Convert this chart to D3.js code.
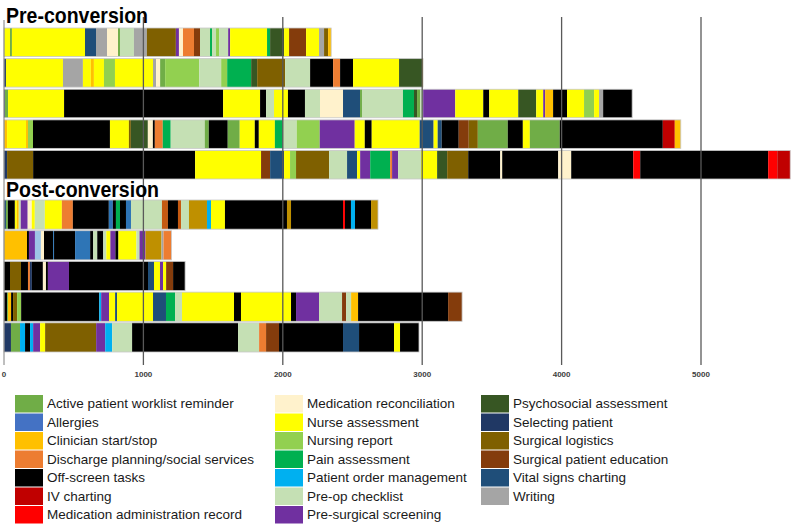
<!DOCTYPE html>
<html><head><meta charset="utf-8">
<script src="https://cdn.jsdelivr.net/npm/d3@7"></script>
<style>body{margin:0;background:#fff}svg{display:block}</style>
</head><body>
<script>
// ---- DATA ----
const categories = ["Active patient worklist reminder","Allergies","Clinician start/stop","Discharge planning/social services","Off-screen tasks","IV charting","Medication administration record","Medication reconciliation","Nurse assessment","Nursing report","Pain assessment","Patient order management","Pre-op checklist","Pre-surgical screening","Psychosocial assessment","Selecting patient","Surgical logistics","Surgical patient education","Vital signs charting","Writing"];
const categoryCodes = ["AP","AL","CS","DP","OS","IV","MA","MR","NA","NR","PA","PO","PC","PS","PY","SP","SL","SE","VS","WR"];
const categoryColors = ["#70ad47","#4472c4","#ffc000","#ed7d31","#000000","#c00000","#ff0000","#fff2cc","#ffff00","#92d050","#00b050","#00b0f0","#c5e0b4","#7030a0","#375623","#203864","#7f6000","#843c0c","#1f4e79","#a5a5a5"];
// colours seen in the bars that have no legend entry
const unlistedCodes = ["GD","OB","BL","LB"];
const unlistedColors = ["#bf9000","#c55a11","#2e75b6","#9dc3e6"];

const groups = ["Pre-conversion","Post-conversion"];
const tickValues = [0,1000,2000,3000,4000,5000];

// each session: sequence of [activity code, duration]
const preSessions = [
 [["NA",43],["AP",14],["NA",524],["VS",79],["WR",79],["MR",79],["AP",14],["PC",100],["WR",93],["SL",208],["PS",22],["MR",29],["DP",79],["SE",43],["PC",72],["PA",14],["PC",29],["NR",22],["PC",65],["PS",14],["NA",265],["PA",22],["PY",100],["NA",36],["SE",122],["NA",93],["WR",36],["SL",29],["CS",22]],
 [["SP",14],["NA",409],["WR",143],["NA",57],["CS",22],["NA",72],["NR",79],["NA",273],["WR",22],["MR",29],["AP",36],["NR",244],["PC",158],["NR",43],["PA",172],["PY",43],["SL",201],["PC",179],["OS",165],["DP",50],["OS",93],["NA",330],["PY",165],["CS",7]],
 [["SP",7],["AP",22],["NA",402],["OS",1141],["NA",265],["OS",43],["PC",57],["NA",100],["OS",122],["PC",108],["MR",165],["VS",122],["AP",14],["PC",294],["PA",79],["PY",22],["AP",22],["PC",22],["PS",230],["NA",201],["OS",43],["NA",208],["PY",129],["NA",50],["PS",14],["CS",57],["OS",100],["NA",122],["NR",72],["NA",36],["WR",29],["OS",208]],
 [["CS",22],["NA",136],["CS",14],["NR",36],["OS",552],["NA",136],["SL",14],["PY",122],["MR",36],["OS",14],["DP",57],["PA",57],["PC",244],["AP",29],["OS",136],["AP",86],["NA",108],["OS",29],["NA",115],["PA",57],["PC",100],["NR",165],["PS",251],["NA",72],["OS",50],["NA",344],["VS",100],["NA",29],["VS",29],["OS",122],["SE",72],["SL",65],["AP",215],["OS",108],["NA",50],["AP",215],["OS",739],["IV",86],["CS",43]],
 [["SP",22],["SL",187],["OS",1162],["NA",473],["SE",65],["VS",100],["NA",43],["NR",43],["SL",237],["PC",129],["VS",72],["NA",22],["PS",72],["PA",143],["DP",14],["PS",43],["PC",165],["NA",115],["PY",72],["SL",151],["OS",230],["MR",14],["OS",402],["MR",93],["OS",445],["MA",50],["OS",918],["MA",65],["IV",93]]
];
const postSessions = [
 [["VS",14],["AP",14],["OS",50],["NA",14],["CS",14],["PC",14],["PS",50],["MR",29],["NA",22],["PC",72],["NA",122],["DP",79],["OS",258],["BL",29],["OS",22],["PA",29],["OS",43],["BL",36],["PC",222],["OB",43],["OS",72],["OB",22],["PC",57],["GD",129],["PO",29],["NA",100],["OS",445],["GD",29],["OS",373],["MA",14],["OS",43],["PO",29],["OS",115],["GD",50]],
 [["CS",165],["OS",14],["PS",43],["LB",43],["MR",22],["OS",65],["BL",7],["OS",151],["BL",108],["OS",22],["PC",29],["OS",43],["PC",22],["NA",29],["PS",36],["OS",22],["NA",129],["PC",22],["PS",43],["GD",115],["WR",14],["DP",57]],
 [["OS",43],["SL",79],["OS",50],["DP",14],["SP",14],["OS",79],["MR",22],["OS",14],["PS",151],["OS",567],["VS",43],["NA",43],["PS",22],["NA",22],["SE",50],["OS",86]],
 [["OS",22],["AP",7],["CS",22],["OS",14],["SL",29],["NR",29],["OS",560],["PO",14],["PS",57],["NA",43],["VS",14],["NA",258],["VS",93],["PA",65],["PC",50],["NA",373],["OS",50],["NA",359],["OS",36],["PS",165],["PC",165],["SE",29],["PC",36],["CS",50],["OS",646],["SE",100]],
 [["SP",50],["AP",65],["PO",36],["OS",36],["PO",22],["PS",50],["NA",36],["SL",366],["PS",65],["PO",50],["PC",143],["OS",760],["PC",151],["DP",50],["SE",93],["OS",459],["VS",115],["OS",251],["NA",43],["OS",136]]
];

// ---- CHART ----
const W = 794, H = 525;
const svg = d3.select("body").append("svg").attr("width", W).attr("height", H);

const x = d3.scaleLinear().domain([0, 5000]).range([4, 701]);
const color = d3.scaleOrdinal()
  .domain(categoryCodes.concat(unlistedCodes))
  .range(categoryColors.concat(unlistedColors));

const yPre = d3.scaleBand().domain(d3.range(preSessions.length)).range([28, 179]).paddingInner(0.07);
const yPost = d3.scaleBand().domain(d3.range(postSessions.length)).range([200, 352]).paddingInner(0.05);

function drawGroup(sessions, y, cls) {
  const g = svg.append("g").attr("class", cls);
  sessions.forEach((segs, i) => {
    let t = 0;
    const cum = segs.map(([c, d]) => { const s = t; t += d; return {c, s, e: t}; });
    const row = g.append("g");
    row.selectAll("rect.seg").data(cum).join("rect")
      .attr("class", "seg")
      .attr("x", d => x(d.s))
      .attr("width", d => Math.max(0.5, x(d.e) - x(d.s)))
      .attr("y", y(i)).attr("height", y.bandwidth())
      .attr("fill", d => color(d.c));
    row.append("rect")
      .attr("x", x(0)).attr("width", x(t) - x(0))
      .attr("y", y(i)).attr("height", y.bandwidth())
      .attr("fill", "none").attr("stroke", "#c8c8c8").attr("stroke-width", 0.8);
  });
}
drawGroup(preSessions, yPre, "pre");
drawGroup(postSessions, yPost, "post");

// gridlines / axis lines (drawn over bars)
svg.append("g").selectAll("line").data(tickValues).join("line")
  .attr("x1", d => x(d)).attr("x2", d => x(d))
  .attr("y1", d => d === 0 ? 20 : 17).attr("y2", 365)
  .attr("stroke", d => d === 0 ? "#7f7f7f" : "#595959")
  .attr("stroke-width", d => d === 0 ? 1 : 1.3);

// tick labels
svg.append("g").selectAll("text").data(tickValues).join("text")
  .attr("x", d => x(d)).attr("y", 377)
  .attr("text-anchor", "middle")
  .attr("font-family", "Liberation Sans, Arial, sans-serif")
  .attr("font-size", 8).attr("font-weight", "bold").attr("fill", "#404040")
  .text(d => d);

// group titles
const titleY = [23, 197];
const titleW = [142, 153];
svg.append("g").selectAll("text").data(groups).join("text")
  .attr("x", 6).attr("y", (d, i) => titleY[i])
  .attr("font-family", "Liberation Sans, Arial, sans-serif")
  .attr("font-size", 22).attr("font-weight", "bold").attr("fill", "#000")
  .attr("textLength", (d, i) => titleW[i]).attr("lengthAdjust", "spacingAndGlyphs")
  .text(d => d);

// legend
const colX = [15, 275, 481];
const perCol = 7;
const leg = svg.append("g").selectAll("g").data(categories).join("g")
  .attr("transform", (d, i) => `translate(${colX[Math.floor(i / perCol)]},${395 + (i % perCol) * 18.5})`);
leg.append("rect").attr("width", 28).attr("height", 17.5)
  .attr("fill", (d, i) => color(categoryCodes[i]));
leg.append("text").attr("x", 32).attr("y", 13)
  .attr("font-family", "Liberation Sans, Arial, sans-serif")
  .attr("font-size", 13.5).attr("fill", "#1a1a1a")
  .text(d => d);
</script>
</body></html>
